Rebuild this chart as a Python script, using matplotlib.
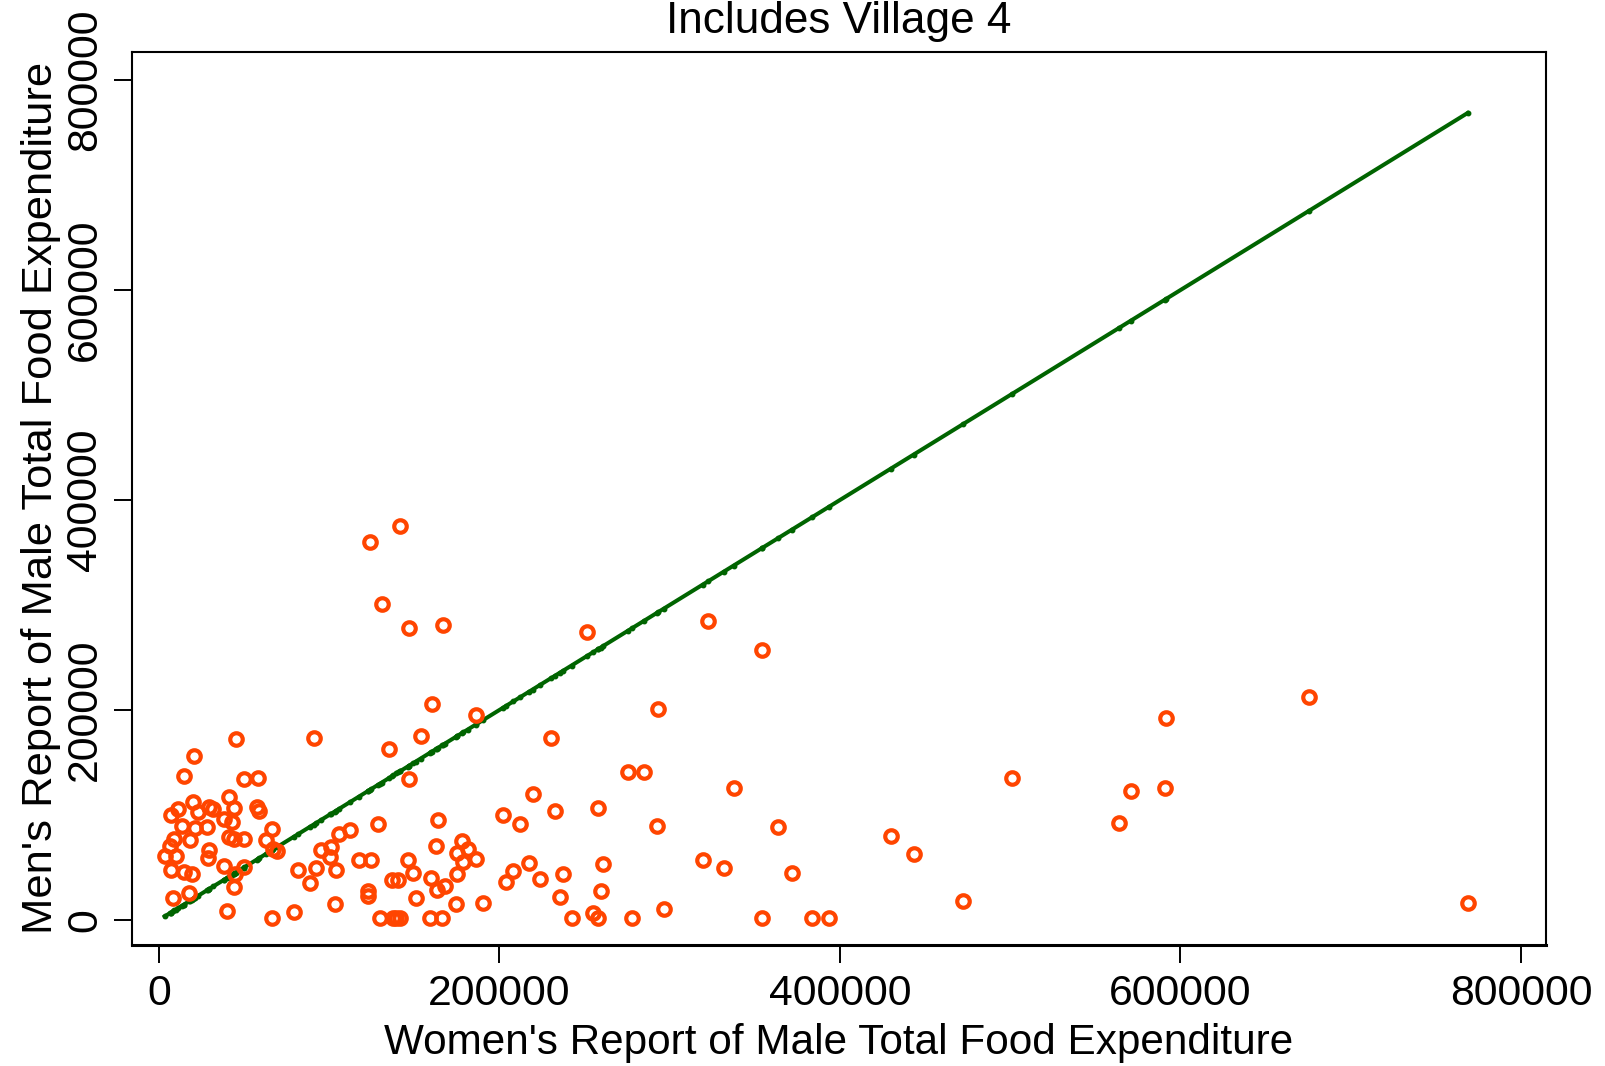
import matplotlib
matplotlib.use("Agg")
import matplotlib.pyplot as plt
import numpy as np

# Women's report (x) and men's report (y) of male total food expenditure
women = [
    45150, 90950, 20500, 14600, 49850, 58070, 19900, 11100, 7160, 22840,
    29480, 32000, 41400, 44330, 57480, 59000, 38100, 43000, 13620, 21430,
    28130, 9100, 18500, 6580, 41220, 44160, 50030, 66470, 63120, 29480,
    3460, 9920, 28700, 67240, 69400, 6990, 14620, 19500, 38300, 50000,
    44930, 43970, 8530, 17740, 39860, 66470, 79200, 103300, 81740, 92130,
    88600, 95420, 101300, 100500, 104000, 105800,
    160200, 186100, 153800, 135200, 230500, 146700, 219500, 201900, 212300, 232500,
    128500, 163800, 112300, 162600, 177900, 175300, 181400, 186300, 178800, 117600,
    124600, 146200, 149400, 174900, 136800, 140600, 159700, 167900, 163200, 122700,
    122700, 150900, 174300, 190200, 129700, 137700, 139600, 141600, 159200, 166300,
    208200, 204000, 217600, 223700,
    124000, 141600, 130900, 146900, 166700,
    251300, 322500, 354000, 293000, 275300, 284700, 337600, 257700, 292500, 363400,
    429800, 443300, 260600, 319400, 331700, 371600, 237200, 235400, 259500, 296500,
    242400, 255100, 257900, 277700, 354000, 383600, 393400,
    500800, 570700, 590900, 563700, 591600, 675500, 768600, 472100,
]
men = [
    172400, 173300, 156200, 136800, 134000, 135200, 112700, 105700, 100300, 102600,
    107900, 105400, 116900, 106700, 107900, 103800, 95900, 93000, 89800, 87300,
    88600, 76900, 76200, 70800, 78800, 77400, 77100, 86400, 75900, 66700,
    61200, 61000, 58800, 67600, 65700, 47300, 46000, 44100, 51700, 50800,
    43500, 31700, 21000, 25700, 8900, 2200, 7900, 15200, 47600, 49200,
    34900, 67000, 69800, 60300, 47600, 82200,
    206000, 195000, 175500, 162900, 173600, 134000, 120300, 100300, 91700, 104300,
    91700, 95500, 85700, 70800, 75200, 63800, 67300, 58100, 54900, 57100,
    56800, 57100, 45100, 43800, 38100, 38100, 40300, 32700, 28300, 27600,
    23100, 21200, 15500, 16500, 1900, 1900, 1900, 1900, 1900, 1900,
    46700, 36500, 54000, 39000,
    360000, 375200, 301000, 278400, 281000,
    274300, 285100, 257100, 201000, 141000, 141000, 125700, 106700, 89500, 88900,
    80000, 62900, 53300, 57400, 49800, 45000, 44100, 22200, 27900, 10500,
    1900, 6400, 1900, 1900, 1900, 1900, 1900,
    135700, 122600, 125700, 92400, 192500, 212000, 16200, 17800,
]

tick_vals = [0, 200000, 400000, 600000, 800000]
tick_labels = ["0", "200000", "400000", "600000", "800000"]

plt.rcParams['font.family'] = ['Liberation Sans', 'DejaVu Sans']

fig = plt.figure(figsize=(16.06, 10.66), dpi=100)
ax = fig.add_axes([0.0820, 0.1135, 0.8806, 0.838])

# line of equality drawn through the women's values
eq = np.sort(np.array(women))
ax.plot(eq, eq, color='#006400', lw=2.9, marker='o', ms=3.2, zorder=2)

# reported pairs
ax.plot(women, men, linestyle='none', marker='o', mfc='none', mec='#FF4500',
        ms=9.0, mew=3.0, zorder=3)

ax.set_xlim(-15900, 814600)
ax.set_ylim(-23800, 827000)

ax.set_xticks(tick_vals)
ax.set_xticklabels(tick_labels)
ax.set_yticks(tick_vals)
ax.set_yticklabels(tick_labels, rotation=90, va='center')
ax.tick_params(direction='out', length=13, width=1.4, labelsize=30.8)
ax.tick_params(axis='x', pad=8)
ax.tick_params(axis='y', pad=6)

for side in ['left', 'right', 'top']:
    ax.spines[side].set_linewidth(1.5)
ax.spines['bottom'].set_linewidth(2.2)

ax.set_xlabel("Women's Report of Male Total Food Expenditure", fontsize=30.4)
ax.xaxis.set_label_coords(0.5, -0.087)
ax.set_ylabel("Men's Report of Male Total Food Expenditure", fontsize=31.3)
ax.yaxis.set_label_coords(-0.050, 0.5)

ax.set_title("Includes Village 4", fontsize=31.8, y=1.021, pad=0)

fig.savefig('out.png', dpi=100)
